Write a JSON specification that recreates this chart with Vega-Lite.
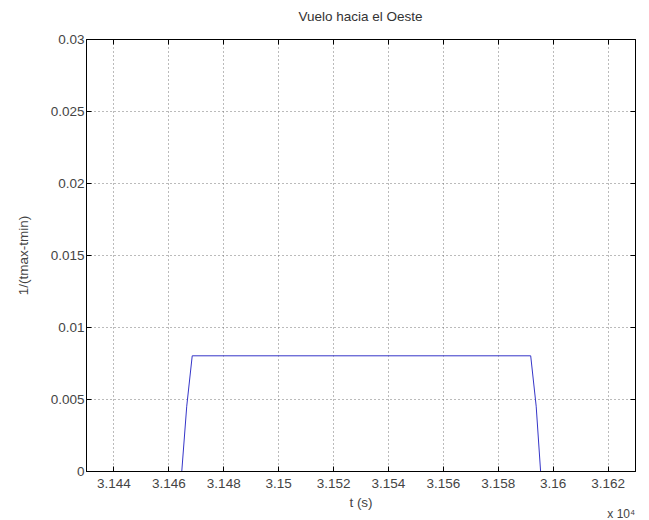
{
  "$schema": "https://vega.github.io/schema/vega-lite/v6.json",
  "width": 549,
  "height": 432,
  "autosize": "none",
  "padding": {"left": 86, "top": 39, "right": 14, "bottom": 49},
  "background": "white",
  "title": {"text": "Vuelo hacia el Oeste", "fontSize": 13.5, "fontWeight": "normal", "font": "Liberation Sans", "color": "#333333", "offset": 9},
  "config": {
    "view": {"stroke": "#000000", "strokeWidth": 1},
    "axis": {
      "labelFont": "Liberation Sans", "labelFontSize": 13.5, "labelColor": "#444444",
      "titleFont": "Liberation Sans", "titleFontSize": 13.5, "titleFontWeight": "normal", "titleColor": "#444444",
      "domainColor": "#000000", "tickColor": "#000000", "tickSize": -5,
      "gridColor": "#777777", "gridDash": [1, 3], "gridOpacity": 1, "gridWidth": 1
    }
  },
  "datasets": {
    "series": [
      {"t": 3.14649, "v": 0},
      {"t": 3.14667, "v": 0.0045},
      {"t": 3.14687, "v": 0.008},
      {"t": 3.15920, "v": 0.008},
      {"t": 3.15940, "v": 0.0045},
      {"t": 3.15956, "v": 0}
    ],
    "note": [{"t": 3.1625, "v": -0.003, "lab": "x 10⁴"}]
  },
  "layer": [
    {
      "data": {"name": "series"},
      "mark": {"type": "line", "color": "#3535c8", "strokeWidth": 1, "clip": true},
      "encoding": {
        "x": {"field": "t", "type": "quantitative",
          "scale": {"domain": [3.143, 3.163], "nice": false, "zero": false},
          "axis": {"title": "t (s)", "orient": "bottom", "values": [3.144, 3.146, 3.148, 3.15, 3.152, 3.154, 3.156, 3.158, 3.16, 3.162], "format": ".3~f", "labelPadding": 10, "titlePadding": 6}},
        "y": {"field": "v", "type": "quantitative",
          "scale": {"domain": [0, 0.03], "nice": false},
          "axis": {"title": "1/(tmax-tmin)", "orient": "left", "values": [0, 0.005, 0.01, 0.015, 0.02, 0.025, 0.03], "format": ".3~f", "labelPadding": 7, "titlePadding": 20}}
      }
    },
    {
      "data": {"name": "series"},
      "mark": {"type": "line", "opacity": 0},
      "encoding": {
        "x": {"field": "t", "type": "quantitative", "axis": {"orient": "top", "title": null, "labels": false, "grid": false, "values": [3.144, 3.146, 3.148, 3.15, 3.152, 3.154, 3.156, 3.158, 3.16, 3.162]}},
        "y": {"field": "v", "type": "quantitative", "axis": {"orient": "right", "title": null, "labels": false, "grid": false, "values": [0, 0.005, 0.01, 0.015, 0.02, 0.025, 0.03]}}
      }
    },
    {
      "data": {"name": "note"},
      "mark": {"type": "text", "clip": false, "font": "Liberation Sans", "fontSize": 12, "color": "#444444", "align": "center", "baseline": "middle"},
      "encoding": {
        "x": {"field": "t", "type": "quantitative", "axis": null},
        "y": {"field": "v", "type": "quantitative", "axis": null},
        "text": {"field": "lab"}
      }
    }
  ]
}
